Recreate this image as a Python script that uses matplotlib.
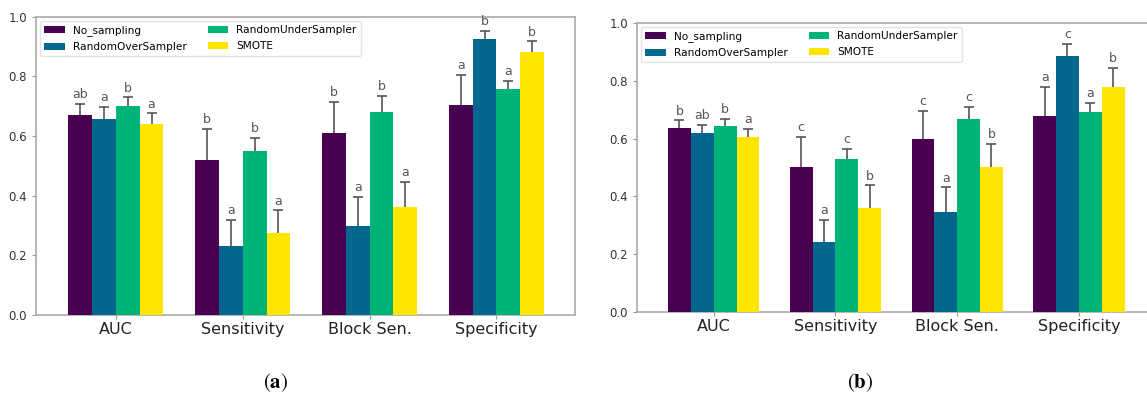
import numpy as np
import matplotlib.pyplot as plt

plt.rcParams['mathtext.fontset'] = 'stix'

# data
metrics = ["AUC", "Sensitivity", "Block Sen.", "Specificity"]
methods = ["No_sampling", "RandomOverSampler", "RandomUnderSampler", "SMOTE"]
colors = ["#4a0050", "#02668e", "#00b377", "#ffe500"]

# panel (a): mean per method, rows follow metrics
mean_a = {
    "No_sampling":        [0.671, 0.521, 0.610, 0.704],
    "RandomOverSampler":  [0.657, 0.232, 0.299, 0.924],
    "RandomUnderSampler": [0.701, 0.551, 0.681, 0.757],
    "SMOTE":              [0.640, 0.274, 0.361, 0.883],
}
err_a = {
    "No_sampling":        [0.037, 0.103, 0.106, 0.100],
    "RandomOverSampler":  [0.040, 0.086, 0.098, 0.030],
    "RandomUnderSampler": [0.029, 0.042, 0.053, 0.028],
    "SMOTE":              [0.036, 0.077, 0.086, 0.035],
}
letters_a = {
    "No_sampling":        ["ab", "b", "b", "a"],
    "RandomOverSampler":  ["a", "a", "a", "b"],
    "RandomUnderSampler": ["b", "b", "b", "a"],
    "SMOTE":              ["a", "a", "a", "b"],
}

# panel (b)
mean_b = {
    "No_sampling":        [0.636, 0.501, 0.597, 0.677],
    "RandomOverSampler":  [0.619, 0.241, 0.346, 0.886],
    "RandomUnderSampler": [0.643, 0.528, 0.668, 0.692],
    "SMOTE":              [0.607, 0.361, 0.501, 0.778],
}
err_b = {
    "No_sampling":        [0.027, 0.105, 0.100, 0.101],
    "RandomOverSampler":  [0.029, 0.077, 0.085, 0.042],
    "RandomUnderSampler": [0.024, 0.037, 0.042, 0.032],
    "SMOTE":              [0.026, 0.077, 0.081, 0.066],
}
letters_b = {
    "No_sampling":        ["b", "c", "c", "a"],
    "RandomOverSampler":  ["ab", "a", "a", "c"],
    "RandomUnderSampler": ["b", "c", "c", "a"],
    "SMOTE":              ["a", "b", "b", "b"],
}


def draw_panel(ax, means, errs, letters):
    x = np.arange(len(metrics))
    w = 0.1875
    for i, m in enumerate(methods):
        xs = x + (i - 1.5) * w
        ax.bar(xs, means[m], width=w, color=colors[i], label=m, zorder=3)
        ax.errorbar(xs, means[m], yerr=errs[m], fmt="none", ecolor="#555555",
                    elinewidth=1.2, capsize=3.5, capthick=1.2, zorder=2)
        for xi, mu, e, t in zip(xs, means[m], errs[m], letters[m]):
            ax.annotate(t, (xi, mu + e), xytext=(0, 2), textcoords="offset points",
                        ha="center", va="bottom", fontsize=9, color="#555555")
    ax.set_xticks(x)
    ax.set_xticklabels(metrics, fontsize=11.5, color="#222222")
    ax.set_xlim(-0.63, 3.62)
    ax.set_ylim(0, 1.0)
    ax.set_yticks([0, 0.2, 0.4, 0.6, 0.8, 1.0])
    ax.set_yticklabels(["0.0", "0.2", "0.4", "0.6", "0.8", "1.0"])
    ax.tick_params(axis="y", labelsize=8.5, colors="#333333", length=3, color="#999999")
    ax.tick_params(axis="x", length=3, color="#999999", pad=2)
    for s in ax.spines.values():
        s.set_color("#aaaaaa")
        s.set_linewidth(1.2)
    ax.legend(loc="upper left", ncol=2, fontsize=7.6, frameon=True,
              edgecolor="#dddddd", handlelength=1.9, handleheight=0.7,
              columnspacing=2.0, borderaxespad=0.4, labelspacing=0.55)


fig = plt.figure(figsize=(11.47, 3.97), dpi=100)
ax1 = fig.add_axes([0.0314, 0.2066, 0.470, 0.751])
ax2 = fig.add_axes([0.5554, 0.214, 0.451, 0.728])

draw_panel(ax1, mean_a, err_a, letters_a)
draw_panel(ax2, mean_b, err_b, letters_b)

fig.text(0.240, 0.035, r"$(\mathbf{a})$", ha="center", va="center", fontsize=15)
fig.text(0.750, 0.035, r"$(\mathbf{b})$", ha="center", va="center", fontsize=15)

fig.savefig("out.png", dpi=100)
